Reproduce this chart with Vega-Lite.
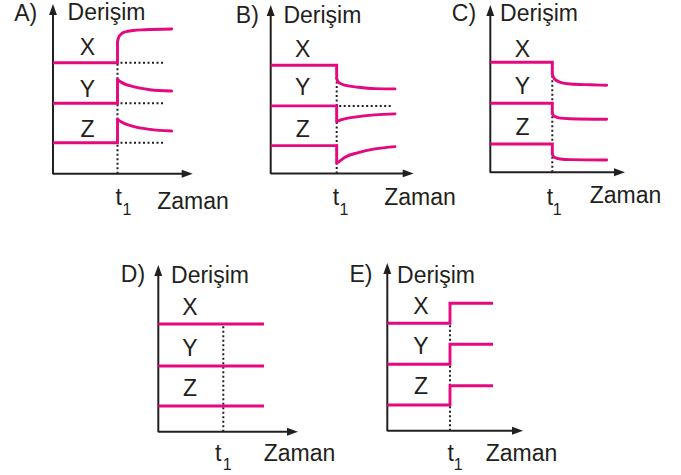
{
"$schema": "https://vega.github.io/schema/vega-lite/v6.json",
"padding": 0,
"spacing": 0,
"config": {"view": {"stroke": null}, "concat": {"spacing": 0}},
"datasets": {
"A": [
{"k":"ax","t":0,"c":-0.05,"t2":0,"c2":16.3},
{"k":"ax","t":0,"c":0,"t2":13.3,"c2":0},
{"k":"au","t":0,"c":16.42},
{"k":"ar","t":13.42,"c":0},
{"k":"dot","t":6.45,"c":0,"t2":6.45,"c2":11.1},
{"k":"dot","t":6.75,"c":11.1,"t2":11.2,"c2":11.1},
{"k":"dot","t":6.75,"c":7.04,"t2":11.2,"c2":7.04},
{"k":"dot","t":6.75,"c":3.1,"t2":11.2,"c2":3.1},
{"k":"ln","s":"X","o":0,"t":0,"c":11.1},{"k":"ln","s":"X","o":1,"t":6.45,"c":11.1},{"k":"ln","s":"X","o":2,"t":6.45,"c":13.2},
{"k":"ln","s":"Y","o":0,"t":0,"c":7.04},{"k":"ln","s":"Y","o":1,"t":6.45,"c":7.04},{"k":"ln","s":"Y","o":2,"t":6.45,"c":9.44},
{"k":"ln","s":"Z","o":0,"t":0,"c":3.1},{"k":"ln","s":"Z","o":1,"t":6.45,"c":3.1},{"k":"ln","s":"Z","o":2,"t":6.45,"c":5.47},
{"k":"cv","s":"X","o":0,"t":6.45,"c":13.2},{"k":"cv","s":"X","o":1,"t":6.55,"c":13.6},{"k":"cv","s":"X","o":2,"t":6.8,"c":13.95},{"k":"cv","s":"X","o":3,"t":7.2,"c":14.17},{"k":"cv","s":"X","o":4,"t":8.0,"c":14.32},{"k":"cv","s":"X","o":5,"t":9.2,"c":14.4},{"k":"cv","s":"X","o":6,"t":11.87,"c":14.47},
{"k":"cv","s":"Y","o":0,"t":6.45,"c":9.44},{"k":"cv","s":"Y","o":1,"t":6.75,"c":9.2},{"k":"cv","s":"Y","o":2,"t":8.03,"c":8.7},{"k":"cv","s":"Y","o":3,"t":9.7,"c":8.4},{"k":"cv","s":"Y","o":4,"t":11.87,"c":8.27},
{"k":"cv","s":"Z","o":0,"t":6.45,"c":5.47},{"k":"cv","s":"Z","o":1,"t":6.75,"c":5.23},{"k":"cv","s":"Z","o":2,"t":8.03,"c":4.73},{"k":"cv","s":"Z","o":3,"t":9.7,"c":4.43},{"k":"cv","s":"Z","o":4,"t":11.87,"c":4.27},
{"k":"tx","t":-2.73,"c":15.3,"label":"A)"},
{"k":"tx","t":5.35,"c":15.37,"label":"Derişim"},
{"k":"tx","t":3.45,"c":11.87,"label":"X"},
{"k":"tx","t":3.45,"c":7.7,"label":"Y"},
{"k":"tx","t":3.45,"c":3.7,"label":"Z"},
{"k":"tx","t":6.58,"c":-3.13,"label":"t"},
{"k":"tx","t":14.0,"c":-3.56,"label":"Zaman"},
{"k":"sub","t":7.4,"c":-4.13,"label":"1"}
],
"B": [
{"k":"ax","t":0,"c":-0.05,"t2":0,"c2":16.2},
{"k":"ax","t":0,"c":0,"t2":13.6,"c2":0},
{"k":"au","t":0,"c":16.3},
{"k":"ar","t":13.75,"c":0},
{"k":"dot","t":6.6,"c":0,"t2":6.6,"c2":10.82},
{"k":"dot","t":6.85,"c":6.75,"t2":12.1,"c2":6.75},
{"k":"ln","s":"X","o":0,"t":0,"c":10.82},{"k":"ln","s":"X","o":1,"t":6.6,"c":10.82},{"k":"ln","s":"X","o":2,"t":6.6,"c":9.45},
{"k":"ln","s":"Y","o":0,"t":0,"c":6.75},{"k":"ln","s":"Y","o":1,"t":6.6,"c":6.75},{"k":"ln","s":"Y","o":2,"t":6.6,"c":5.18},
{"k":"ln","s":"Z","o":0,"t":0,"c":2.78},{"k":"ln","s":"Z","o":1,"t":6.6,"c":2.78},{"k":"ln","s":"Z","o":2,"t":6.6,"c":1.02},
{"k":"cv","s":"X","o":0,"t":6.6,"c":9.45},{"k":"cv","s":"X","o":1,"t":6.75,"c":9.15},{"k":"cv","s":"X","o":2,"t":6.95,"c":9.0},{"k":"cv","s":"X","o":3,"t":7.5,"c":8.8},{"k":"cv","s":"X","o":4,"t":8.76,"c":8.62},{"k":"cv","s":"X","o":5,"t":10.43,"c":8.48},{"k":"cv","s":"X","o":6,"t":12.43,"c":8.45},
{"k":"cv","s":"Y","o":0,"t":6.6,"c":5.18},{"k":"cv","s":"Y","o":1,"t":7.0,"c":5.35},{"k":"cv","s":"Y","o":2,"t":7.6,"c":5.5},{"k":"cv","s":"Y","o":3,"t":8.76,"c":5.68},{"k":"cv","s":"Y","o":4,"t":10.43,"c":5.85},{"k":"cv","s":"Y","o":5,"t":12.43,"c":5.95},
{"k":"cv","s":"Z","o":0,"t":6.6,"c":1.02},{"k":"cv","s":"Z","o":1,"t":7.0,"c":1.3},{"k":"cv","s":"Z","o":2,"t":7.43,"c":1.62},{"k":"cv","s":"Z","o":3,"t":8.76,"c":2.08},{"k":"cv","s":"Z","o":4,"t":10.43,"c":2.45},{"k":"cv","s":"Z","o":5,"t":12.43,"c":2.68},
{"k":"tx","t":-2.34,"c":15.09,"label":"B)"},
{"k":"tx","t":5.17,"c":15.05,"label":"Derişim"},
{"k":"tx","t":3.2,"c":11.67,"label":"X"},
{"k":"tx","t":3.2,"c":7.84,"label":"Y"},
{"k":"tx","t":3.2,"c":3.67,"label":"Z"},
{"k":"tx","t":6.53,"c":-3.16,"label":"t"},
{"k":"tx","t":14.93,"c":-3.16,"label":"Zaman"},
{"k":"sub","t":7.33,"c":-4.16,"label":"1"}
],
"C": [
{"k":"ax","t":0,"c":-0.05,"t2":0,"c2":16.1},
{"k":"ax","t":0,"c":0,"t2":12.8,"c2":0},
{"k":"au","t":0,"c":16.18},
{"k":"ar","t":12.92,"c":0},
{"k":"dot","t":6.2,"c":0,"t2":6.2,"c2":11.0},
{"k":"ln","s":"X","o":0,"t":0,"c":11.0},{"k":"ln","s":"X","o":1,"t":6.2,"c":11.0},{"k":"ln","s":"X","o":2,"t":6.2,"c":9.8},
{"k":"ln","s":"Y","o":0,"t":0,"c":6.9},{"k":"ln","s":"Y","o":1,"t":6.2,"c":6.9},{"k":"ln","s":"Y","o":2,"t":6.2,"c":5.85},
{"k":"ln","s":"Z","o":0,"t":0,"c":2.83},{"k":"ln","s":"Z","o":1,"t":6.2,"c":2.83},{"k":"ln","s":"Z","o":2,"t":6.2,"c":1.8},
{"k":"cv","s":"X","o":0,"t":6.2,"c":9.8},{"k":"cv","s":"X","o":1,"t":6.4,"c":9.35},{"k":"cv","s":"X","o":2,"t":7.0,"c":9.0},{"k":"cv","s":"X","o":3,"t":8.0,"c":8.83},{"k":"cv","s":"X","o":4,"t":10.0,"c":8.75},{"k":"cv","s":"X","o":5,"t":11.64,"c":8.7},
{"k":"cv","s":"Y","o":0,"t":6.2,"c":5.85},{"k":"cv","s":"Y","o":1,"t":6.4,"c":5.6},{"k":"cv","s":"Y","o":2,"t":7.0,"c":5.42},{"k":"cv","s":"Y","o":3,"t":8.0,"c":5.36},{"k":"cv","s":"Y","o":4,"t":11.64,"c":5.3},
{"k":"cv","s":"Z","o":0,"t":6.2,"c":1.8},{"k":"cv","s":"Z","o":1,"t":6.4,"c":1.5},{"k":"cv","s":"Z","o":2,"t":7.0,"c":1.33},{"k":"cv","s":"Z","o":3,"t":8.0,"c":1.27},{"k":"cv","s":"Z","o":4,"t":11.64,"c":1.23},
{"k":"tx","t":-2.63,"c":15.18,"label":"C)"},
{"k":"tx","t":4.87,"c":15.18,"label":"Derişim"},
{"k":"tx","t":3.22,"c":11.56,"label":"X"},
{"k":"tx","t":3.22,"c":7.83,"label":"Y"},
{"k":"tx","t":3.22,"c":3.73,"label":"Z"},
{"k":"tx","t":5.97,"c":-3.27,"label":"t"},
{"k":"tx","t":13.52,"c":-3.02,"label":"Zaman"},
{"k":"sub","t":6.7,"c":-4.27,"label":"1"}
],
"D": [
{"k":"ax","t":0,"c":-0.05,"t2":0,"c2":16.0},
{"k":"ax","t":0,"c":0,"t2":13.3,"c2":0},
{"k":"au","t":0,"c":16.12},
{"k":"ar","t":13.42,"c":0},
{"k":"dot","t":6.5,"c":0,"t2":6.5,"c2":10.77},
{"k":"ln","s":"X","o":0,"t":0,"c":10.77},{"k":"ln","s":"X","o":1,"t":10.57,"c":10.77},
{"k":"ln","s":"Y","o":0,"t":0,"c":6.57},{"k":"ln","s":"Y","o":1,"t":10.57,"c":6.57},
{"k":"ln","s":"Z","o":0,"t":0,"c":2.57},{"k":"ln","s":"Z","o":1,"t":10.57,"c":2.57},
{"k":"tx","t":-2.53,"c":15.0,"label":"D)"},
{"k":"tx","t":5.17,"c":14.84,"label":"Derişim"},
{"k":"tx","t":3.17,"c":11.67,"label":"X"},
{"k":"tx","t":3.17,"c":7.57,"label":"Y"},
{"k":"tx","t":3.17,"c":3.6,"label":"Z"},
{"k":"tx","t":6.0,"c":-2.9,"label":"t"},
{"k":"tx","t":14.12,"c":-2.9,"label":"Zaman"},
{"k":"sub","t":6.9,"c":-3.83,"label":"1"}
],
"E": [
{"k":"ax","t":0,"c":-0.05,"t2":0,"c2":16.1},
{"k":"ax","t":0,"c":0,"t2":12.9,"c2":0},
{"k":"au","t":0,"c":16.22},
{"k":"ar","t":13.02,"c":0},
{"k":"dot","t":6.27,"c":0,"t2":6.27,"c2":10.74},
{"k":"ln","s":"X","o":0,"t":0,"c":10.74},{"k":"ln","s":"X","o":1,"t":6.27,"c":10.74},{"k":"ln","s":"X","o":2,"t":6.27,"c":12.74},{"k":"ln","s":"X","o":3,"t":10.57,"c":12.74},
{"k":"ln","s":"Y","o":0,"t":0,"c":6.64},{"k":"ln","s":"Y","o":1,"t":6.27,"c":6.64},{"k":"ln","s":"Y","o":2,"t":6.27,"c":8.64},{"k":"ln","s":"Y","o":3,"t":10.57,"c":8.64},
{"k":"ln","s":"Z","o":0,"t":0,"c":2.57},{"k":"ln","s":"Z","o":1,"t":6.27,"c":2.57},{"k":"ln","s":"Z","o":2,"t":6.27,"c":4.5},{"k":"ln","s":"Z","o":3,"t":10.57,"c":4.5},
{"k":"tx","t":-2.63,"c":14.9,"label":"E)"},
{"k":"tx","t":4.87,"c":14.74,"label":"Derişim"},
{"k":"tx","t":3.37,"c":11.67,"label":"X"},
{"k":"tx","t":3.37,"c":7.64,"label":"Y"},
{"k":"tx","t":3.37,"c":3.67,"label":"Z"},
{"k":"tx","t":6.34,"c":-3.0,"label":"t"},
{"k":"tx","t":13.42,"c":-3.0,"label":"Zaman"},
{"k":"sub","t":7.1,"c":-3.93,"label":"1"}
]
},
"vconcat": [
{"spacing": 0, "bounds": "flush", "hconcat": [
{"width": 219, "height": 219, "data": {"name": "A"},
 "encoding": {"x": {"field": "t", "type": "quantitative", "scale": {"domain": [-5.3, 16.6], "nice": false, "zero": false}, "axis": null},
              "y": {"field": "c", "type": "quantitative", "scale": {"domain": [-4.53, 17.37], "nice": false, "zero": false}, "axis": null}},
 "layer": [
  {"transform": [{"filter": "datum.k==='ax'"}], "mark": {"type": "rule", "color": "#231f20", "strokeWidth": 2}, "encoding": {"x2": {"field": "t2"}, "y2": {"field": "c2"}}},
  {"transform": [{"filter": "datum.k==='au'||datum.k==='ar'"}], "mark": {"type": "point", "filled": true, "size": 121, "color": "#231f20", "opacity": 1}, "encoding": {"shape": {"field": "k", "type": "nominal", "scale": {"domain": ["au", "ar"], "range": ["M0,-1L0.72,1L-0.72,1Z", "M1,0L-1,0.72L-1,-0.72Z"]}, "legend": null}}},
  {"transform": [{"filter": "datum.k==='dot'"}], "mark": {"type": "rule", "color": "#231f20", "strokeWidth": 2, "strokeDash": [2, 2.5]}, "encoding": {"x2": {"field": "t2"}, "y2": {"field": "c2"}}},
  {"transform": [{"filter": "datum.k==='ln'"}], "mark": {"type": "line", "color": "#e5097f", "strokeWidth": 2.9, "interpolate": "linear"}, "encoding": {"detail": {"field": "s", "type": "nominal"}, "order": {"field": "o", "type": "quantitative"}}},
  {"transform": [{"filter": "datum.k==='cv'"}], "mark": {"type": "line", "color": "#e5097f", "strokeWidth": 2.9, "interpolate": "monotone", "strokeCap": "round"}, "encoding": {"detail": {"field": "s", "type": "nominal"}, "order": {"field": "o", "type": "quantitative"}}},
  {"transform": [{"filter": "datum.k==='tx'"}], "mark": {"type": "text", "font": "Liberation Sans", "fontSize": 23, "baseline": "alphabetic", "align": "center", "color": "#231f20"}, "encoding": {"text": {"field": "label"}}},
  {"transform": [{"filter": "datum.k==='sub'"}], "mark": {"type": "text", "font": "Liberation Sans", "fontSize": 16, "baseline": "alphabetic", "align": "center", "color": "#231f20"}, "encoding": {"text": {"field": "label"}}}
 ]},
{"width": 221, "height": 219, "data": {"name": "B"},
 "encoding": {"x": {"field": "t", "type": "quantitative", "scale": {"domain": [-5.17, 16.93], "nice": false, "zero": false}, "axis": null},
              "y": {"field": "c", "type": "quantitative", "scale": {"domain": [-4.56, 17.34], "nice": false, "zero": false}, "axis": null}},
 "layer": [
  {"transform": [{"filter": "datum.k==='ax'"}], "mark": {"type": "rule", "color": "#231f20", "strokeWidth": 2}, "encoding": {"x2": {"field": "t2"}, "y2": {"field": "c2"}}},
  {"transform": [{"filter": "datum.k==='au'||datum.k==='ar'"}], "mark": {"type": "point", "filled": true, "size": 121, "color": "#231f20", "opacity": 1}, "encoding": {"shape": {"field": "k", "type": "nominal", "scale": {"domain": ["au", "ar"], "range": ["M0,-1L0.72,1L-0.72,1Z", "M1,0L-1,0.72L-1,-0.72Z"]}, "legend": null}}},
  {"transform": [{"filter": "datum.k==='dot'"}], "mark": {"type": "rule", "color": "#231f20", "strokeWidth": 2, "strokeDash": [2, 2.5]}, "encoding": {"x2": {"field": "t2"}, "y2": {"field": "c2"}}},
  {"transform": [{"filter": "datum.k==='ln'"}], "mark": {"type": "line", "color": "#e5097f", "strokeWidth": 2.9, "interpolate": "linear"}, "encoding": {"detail": {"field": "s", "type": "nominal"}, "order": {"field": "o", "type": "quantitative"}}},
  {"transform": [{"filter": "datum.k==='cv'"}], "mark": {"type": "line", "color": "#e5097f", "strokeWidth": 2.9, "interpolate": "monotone", "strokeCap": "round"}, "encoding": {"detail": {"field": "s", "type": "nominal"}, "order": {"field": "o", "type": "quantitative"}}},
  {"transform": [{"filter": "datum.k==='tx'"}], "mark": {"type": "text", "font": "Liberation Sans", "fontSize": 23, "baseline": "alphabetic", "align": "center", "color": "#231f20"}, "encoding": {"text": {"field": "label"}}},
  {"transform": [{"filter": "datum.k==='sub'"}], "mark": {"type": "text", "font": "Liberation Sans", "fontSize": 16, "baseline": "alphabetic", "align": "center", "color": "#231f20"}, "encoding": {"text": {"field": "label"}}}
 ]},
{"width": 241, "height": 219, "data": {"name": "C"},
 "encoding": {"x": {"field": "t", "type": "quantitative", "scale": {"domain": [-5.03, 19.07], "nice": false, "zero": false}, "axis": null},
              "y": {"field": "c", "type": "quantitative", "scale": {"domain": [-4.67, 17.23], "nice": false, "zero": false}, "axis": null}},
 "layer": [
  {"transform": [{"filter": "datum.k==='ax'"}], "mark": {"type": "rule", "color": "#231f20", "strokeWidth": 2}, "encoding": {"x2": {"field": "t2"}, "y2": {"field": "c2"}}},
  {"transform": [{"filter": "datum.k==='au'||datum.k==='ar'"}], "mark": {"type": "point", "filled": true, "size": 121, "color": "#231f20", "opacity": 1}, "encoding": {"shape": {"field": "k", "type": "nominal", "scale": {"domain": ["au", "ar"], "range": ["M0,-1L0.72,1L-0.72,1Z", "M1,0L-1,0.72L-1,-0.72Z"]}, "legend": null}}},
  {"transform": [{"filter": "datum.k==='dot'"}], "mark": {"type": "rule", "color": "#231f20", "strokeWidth": 2, "strokeDash": [2, 2.5]}, "encoding": {"x2": {"field": "t2"}, "y2": {"field": "c2"}}},
  {"transform": [{"filter": "datum.k==='ln'"}], "mark": {"type": "line", "color": "#e5097f", "strokeWidth": 2.9, "interpolate": "linear"}, "encoding": {"detail": {"field": "s", "type": "nominal"}, "order": {"field": "o", "type": "quantitative"}}},
  {"transform": [{"filter": "datum.k==='cv'"}], "mark": {"type": "line", "color": "#e5097f", "strokeWidth": 2.9, "interpolate": "monotone", "strokeCap": "round"}, "encoding": {"detail": {"field": "s", "type": "nominal"}, "order": {"field": "o", "type": "quantitative"}}},
  {"transform": [{"filter": "datum.k==='tx'"}], "mark": {"type": "text", "font": "Liberation Sans", "fontSize": 23, "baseline": "alphabetic", "align": "center", "color": "#231f20"}, "encoding": {"text": {"field": "label"}}},
  {"transform": [{"filter": "datum.k==='sub'"}], "mark": {"type": "text", "font": "Liberation Sans", "fontSize": 16, "baseline": "alphabetic", "align": "center", "color": "#231f20"}, "encoding": {"text": {"field": "label"}}}
 ]}
]},
{"spacing": 0, "bounds": "flush", "hconcat": [
{"width": 272, "height": 256, "data": {"name": "D"},
 "encoding": {"x": {"field": "t", "type": "quantitative", "scale": {"domain": [-15.83, 11.37], "nice": false, "zero": false}, "axis": null},
              "y": {"field": "c", "type": "quantitative", "scale": {"domain": [-4.33, 21.27], "nice": false, "zero": false}, "axis": null}},
 "layer": [
  {"transform": [{"filter": "datum.k==='ax'"}], "mark": {"type": "rule", "color": "#231f20", "strokeWidth": 2}, "encoding": {"x2": {"field": "t2"}, "y2": {"field": "c2"}}},
  {"transform": [{"filter": "datum.k==='au'||datum.k==='ar'"}], "mark": {"type": "point", "filled": true, "size": 121, "color": "#231f20", "opacity": 1}, "encoding": {"shape": {"field": "k", "type": "nominal", "scale": {"domain": ["au", "ar"], "range": ["M0,-1L0.72,1L-0.72,1Z", "M1,0L-1,0.72L-1,-0.72Z"]}, "legend": null}}},
  {"transform": [{"filter": "datum.k==='dot'"}], "mark": {"type": "rule", "color": "#231f20", "strokeWidth": 2, "strokeDash": [2, 2.5]}, "encoding": {"x2": {"field": "t2"}, "y2": {"field": "c2"}}},
  {"transform": [{"filter": "datum.k==='ln'"}], "mark": {"type": "line", "color": "#e5097f", "strokeWidth": 2.9, "interpolate": "linear"}, "encoding": {"detail": {"field": "s", "type": "nominal"}, "order": {"field": "o", "type": "quantitative"}}},
  {"transform": [{"filter": "datum.k==='tx'"}], "mark": {"type": "text", "font": "Liberation Sans", "fontSize": 23, "baseline": "alphabetic", "align": "center", "color": "#231f20"}, "encoding": {"text": {"field": "label"}}},
  {"transform": [{"filter": "datum.k==='sub'"}], "mark": {"type": "text", "font": "Liberation Sans", "fontSize": 16, "baseline": "alphabetic", "align": "center", "color": "#231f20"}, "encoding": {"text": {"field": "label"}}}
 ]},
{"width": 409, "height": 256, "data": {"name": "E"},
 "encoding": {"x": {"field": "t", "type": "quantitative", "scale": {"domain": [-11.53, 29.37], "nice": false, "zero": false}, "axis": null},
              "y": {"field": "c", "type": "quantitative", "scale": {"domain": [-4.43, 21.17], "nice": false, "zero": false}, "axis": null}},
 "layer": [
  {"transform": [{"filter": "datum.k==='ax'"}], "mark": {"type": "rule", "color": "#231f20", "strokeWidth": 2}, "encoding": {"x2": {"field": "t2"}, "y2": {"field": "c2"}}},
  {"transform": [{"filter": "datum.k==='au'||datum.k==='ar'"}], "mark": {"type": "point", "filled": true, "size": 121, "color": "#231f20", "opacity": 1}, "encoding": {"shape": {"field": "k", "type": "nominal", "scale": {"domain": ["au", "ar"], "range": ["M0,-1L0.72,1L-0.72,1Z", "M1,0L-1,0.72L-1,-0.72Z"]}, "legend": null}}},
  {"transform": [{"filter": "datum.k==='dot'"}], "mark": {"type": "rule", "color": "#231f20", "strokeWidth": 2, "strokeDash": [2, 2.5]}, "encoding": {"x2": {"field": "t2"}, "y2": {"field": "c2"}}},
  {"transform": [{"filter": "datum.k==='ln'"}], "mark": {"type": "line", "color": "#e5097f", "strokeWidth": 2.9, "interpolate": "linear"}, "encoding": {"detail": {"field": "s", "type": "nominal"}, "order": {"field": "o", "type": "quantitative"}}},
  {"transform": [{"filter": "datum.k==='tx'"}], "mark": {"type": "text", "font": "Liberation Sans", "fontSize": 23, "baseline": "alphabetic", "align": "center", "color": "#231f20"}, "encoding": {"text": {"field": "label"}}},
  {"transform": [{"filter": "datum.k==='sub'"}], "mark": {"type": "text", "font": "Liberation Sans", "fontSize": 16, "baseline": "alphabetic", "align": "center", "color": "#231f20"}, "encoding": {"text": {"field": "label"}}}
 ]}
]}
]
}
